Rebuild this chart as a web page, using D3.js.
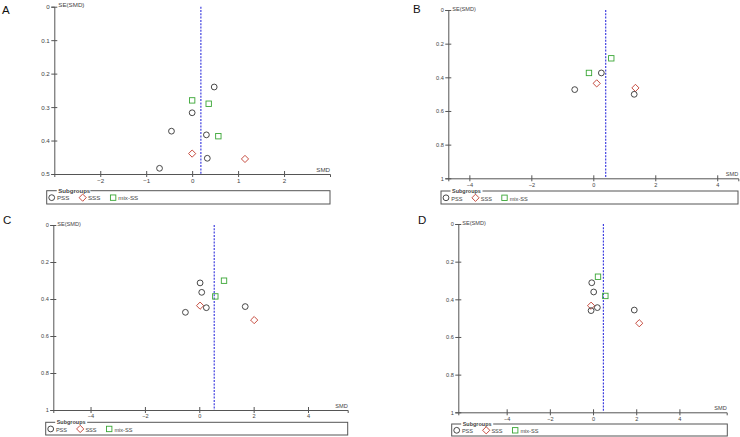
<!DOCTYPE html>
<html>
<head>
<meta charset="utf-8">
<script src="https://cdn.jsdelivr.net/npm/d3@7/dist/d3.min.js"></script>
<style>
  html, body { margin: 0; padding: 0; background: #fff; }
  svg { display: block; font-family: "Liberation Sans", Arial, sans-serif; }
</style>
</head>
<body>
<svg id="chart" width="740" height="437"></svg>
<script>
// ---------------- DATA ----------------
const groupNames = ["PSS", "SSS", "mix-SS"];

const aSMD = [0.48, 0.00, 0.36, 0.00, -0.45, 0.31, 0.57, 0.00, 0.33, 1.15, -0.71];
const aSE  = [0.240, 0.280, 0.290, 0.317, 0.372, 0.383, 0.387, 0.439, 0.453, 0.455, 0.483];
const aGrp = ["PSS", "mix-SS", "mix-SS", "PSS", "PSS", "PSS", "mix-SS", "SSS", "PSS", "SSS", "PSS"];

const bSMD = [0.58, -0.14, 0.26, 0.11, -0.60, 1.36, 1.32];
const bSE  = [0.287, 0.374, 0.374, 0.436, 0.473, 0.463, 0.501];
const bGrp = ["mix-SS", "mix-SS", "PSS", "SSS", "PSS", "SSS", "PSS"];

const cSMD = [0.03, 0.91, 0.09, 0.59, 0.03, 0.26, 1.69, -0.51, 2.02];
const cSE  = [0.313, 0.301, 0.364, 0.386, 0.436, 0.447, 0.441, 0.472, 0.514];
const cGrp = ["PSS", "mix-SS", "PSS", "mix-SS", "SSS", "PSS", "PSS", "PSS", "SSS"];

const dSMD = [0.23, -0.06, 0.03, 0.57, -0.09, 0.20, -0.09, 1.91, 2.14];
const dSE  = [0.280, 0.312, 0.361, 0.382, 0.434, 0.444, 0.460, 0.457, 0.527];
const dGrp = ["mix-SS", "PSS", "PSS", "mix-SS", "SSS", "PSS", "PSS", "PSS", "SSS"];

const pooledSMD = [0.19, 0.40, 0.55, 0.48];
const panelLabels = ["A", "B", "C", "D"];

const xTicksA = [-2, -1, 0, 1, 2];
const xTicksBCD = [-4, -2, 0, 2, 4];
const yTicksA = [0, 0.1, 0.2, 0.3, 0.4, 0.5];
const yTicksBCD = [0, 0.2, 0.4, 0.6, 0.8, 1];
const xDomains = [[-3, 3], [-4.68, 4.68], [-5.37, 5.46], [-6.24, 6.19]];
const yDomains = [[0, 0.5], [0, 1], [0, 1], [0, 1]];

// ---------------- LAYOUT ----------------
const panels = [
  { smd: aSMD, se: aSE, grp: aGrp, xTicks: xTicksA, yTicks: yTicksA,
    left: 54.3, right: 330, top: 6.7, bottom: 174,
    lg: { x0: 46.7, x1: 330, y0: 190.7, y1: 204 }, letter: { x: 2, y: 13.5 }, fs: 6.2, lgScale: 1.05 },
  { smd: bSMD, se: bSE, grp: bGrp, xTicks: xTicksBCD, yTicks: yTicksBCD,
    left: 448.3, right: 738.3, top: 10, bottom: 178.3,
    lg: { x0: 441, x1: 738, y0: 191, y1: 204 }, letter: { x: 413, y: 13 }, fs: 5.6, lgScale: 1 },
  { smd: cSMD, se: cSE, grp: cGrp, xTicks: xTicksBCD, yTicks: yTicksBCD,
    left: 53.3, right: 347.7, top: 225, bottom: 410,
    lg: { x0: 45.7, x1: 347.7, y0: 422.3, y1: 435 }, letter: { x: 3, y: 223.5 }, fs: 5.6, lgScale: 1 },
  { smd: dSMD, se: dSE, grp: dGrp, xTicks: xTicksBCD, yTicks: yTicksBCD,
    left: 458.3, right: 726.7, top: 224, bottom: 412.3,
    lg: { x0: 451.7, x1: 727.3, y0: 424, y1: 436 }, letter: { x: 418, y: 223.5 }, fs: 5.6, lgScale: 1 }
];

const colors = { "PSS": "#333333", "SSS": "#c0392b", "mix-SS": "#3aa635" };
const axisColor = "#555";
const textColor = "#444";

const svg = d3.select("#chart");

function drawMarker(g, type, x, y) {
  if (type === "PSS") {
    g.append("circle").attr("cx", x).attr("cy", y).attr("r", 2.9)
      .attr("fill", "none").attr("stroke", colors[type]).attr("stroke-width", 0.9);
  } else if (type === "SSS") {
    const r = 3.6;
    g.append("path").attr("d", `M${x},${y - r}L${x + r},${y}L${x},${y + r}L${x - r},${y}Z`)
      .attr("fill", "none").attr("stroke", colors[type]).attr("stroke-width", 0.9);
  } else {
    const s = 5.4;
    g.append("rect").attr("x", x - s / 2).attr("y", y - s / 2).attr("width", s).attr("height", s)
      .attr("fill", "none").attr("stroke", colors[type]).attr("stroke-width", 0.9);
  }
}

const fmtY = v => (v === 0 ? "0" : (v === 1 ? "1" : d3.format(".1f")(v)));
const fmtX = v => d3.format("d")(v);

panels.forEach((p, i) => {
  const g = svg.append("g");
  const x = d3.scaleLinear().domain(xDomains[i]).range([p.left, p.right]);
  const y = d3.scaleLinear().domain(yDomains[i]).range([p.top, p.bottom]);

  // panel letter
  g.append("text").attr("x", p.letter.x).attr("y", p.letter.y)
    .attr("font-size", 11.5).attr("fill", "#111").text(panelLabels[i]);

  // pooled estimate line (dashed)
  const px = x(pooledSMD[i]);
  g.append("line")
    .attr("x1", px).attr("x2", px)
    .attr("y1", y(yDomains[i][0])).attr("y2", y(yDomains[i][1]))
    .attr("stroke", "#4040e0").attr("stroke-width", 1.2).attr("stroke-dasharray", "2,1.3");

  // Y axis
  const yAxis = g.append("g").attr("transform", `translate(${p.left},0)`)
    .call(d3.axisLeft(y).tickValues(p.yTicks).tickFormat(fmtY).tickSizeOuter(0).tickSize(3).tickPadding(1.5));
  yAxis.select(".domain").attr("stroke", axisColor).attr("stroke-width", 1);
  yAxis.selectAll(".tick line").attr("x1", -3).attr("x2", 3).attr("stroke", axisColor);
  yAxis.selectAll(".tick text").attr("font-size", p.fs).attr("fill", textColor)
    .attr("font-family", "'Liberation Sans', Arial, sans-serif");

  // X axis
  const xAxis = g.append("g").attr("transform", `translate(0,${p.bottom})`)
    .call(d3.axisBottom(x).tickValues(p.xTicks).tickFormat(fmtX).tickSizeOuter(0).tickSize(3).tickPadding(1.5));
  xAxis.select(".domain").attr("stroke", axisColor).attr("stroke-width", 1);
  xAxis.selectAll(".tick line").attr("y1", -3).attr("y2", 3).attr("stroke", axisColor);
  xAxis.selectAll(".tick text").attr("font-size", p.fs).attr("fill", textColor)
    .attr("font-family", "'Liberation Sans', Arial, sans-serif");

  // axis titles
  g.append("text").attr("x", p.left + 4).attr("y", p.top + 0.5)
    .attr("font-size", p.fs).attr("fill", textColor).text("SE(SMD)");
  g.append("text").attr("x", p.right).attr("y", p.bottom - 2).attr("text-anchor", "end")
    .attr("font-size", p.fs).attr("fill", textColor).text("SMD");

  // points
  const pts = g.append("g");
  p.smd.forEach((v, k) => drawMarker(pts, p.grp[k], x(v), y(p.se[k])));

  // legend
  const L = p.lg;
  const lg = g.append("g");
  lg.append("rect").attr("x", L.x0).attr("y", L.y0).attr("width", L.x1 - L.x0).attr("height", L.y1 - L.y0)
    .attr("fill", "none").attr("stroke", axisColor).attr("stroke-width", 1);
  const titleX = L.x0 + 11 * p.lgScale;
  const titleW = 32 * p.lgScale;
  lg.append("rect").attr("x", titleX - 1.5).attr("y", L.y0 - 2).attr("width", titleW).attr("height", 4).attr("fill", "#fff");
  lg.append("text").attr("x", titleX).attr("y", L.y0 + 2).attr("font-size", p.fs * 0.98)
    .attr("font-weight", "bold").attr("fill", textColor).text("Subgroups");
  const cy = (L.y0 + L.y1) / 2 + 0.8;
  const offsets = [0, 29.5, 58.5];
  groupNames.forEach((gn, k) => {
    const mx = L.x0 + 5 + offsets[k] * p.lgScale;
    drawMarker(lg, gn, mx, cy - 0.5);
    lg.append("text").attr("x", mx + 5.2).attr("y", cy + 2.2)
      .attr("font-size", p.fs).attr("fill", textColor).text(gn);
  });
});
</script>
</body>
</html>
